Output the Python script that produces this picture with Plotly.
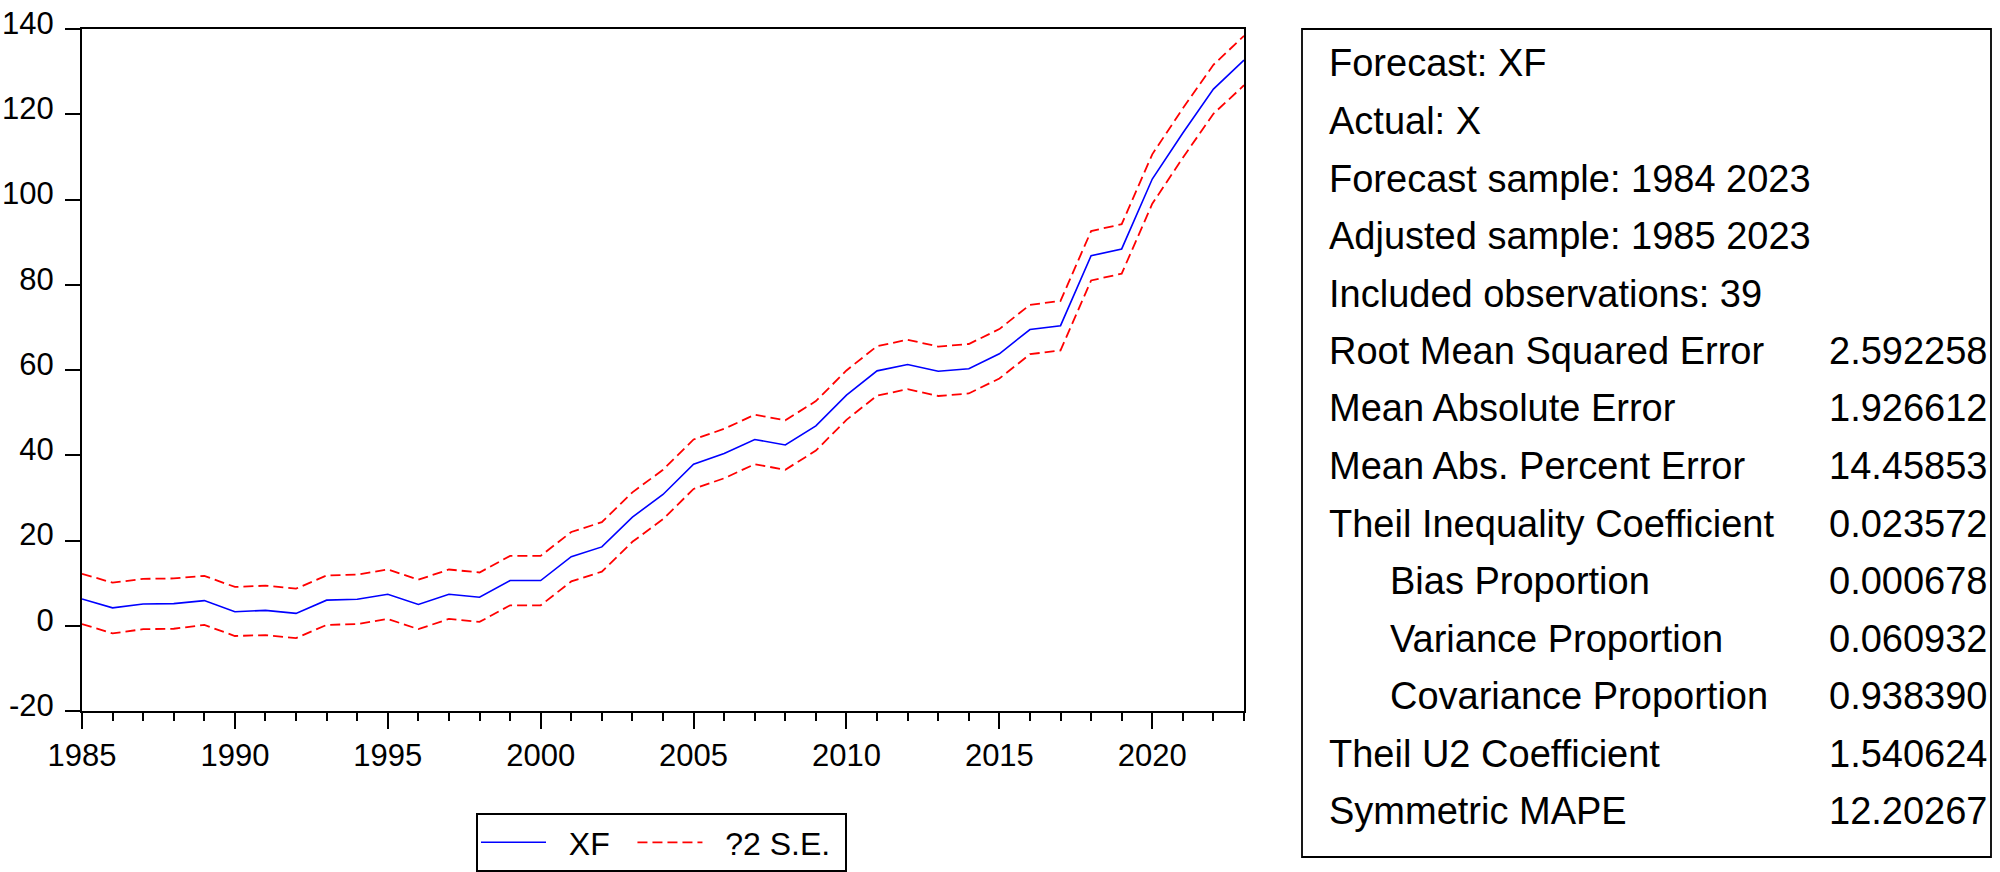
import plotly.graph_objects as go

# ---- data ----
years = list(range(1985, 2024))
xf = [6.3, 4.2, 5.1, 5.2, 5.9, 3.3, 3.6, 2.9, 6.0, 6.2,
      7.4, 5.0, 7.4, 6.7, 10.6, 10.6, 16.2, 18.5, 25.5, 30.8,
      37.9, 40.4, 43.7, 42.4, 46.9, 54.1, 59.8, 61.3, 59.7, 60.3,
      63.8, 69.5, 70.4, 86.8, 88.4, 104.8, 115.6, 125.9, 132.7]
upper = [12.2, 10.1, 11.0, 11.1, 11.7, 9.1, 9.4, 8.7, 11.8, 12.0,
         13.2, 10.8, 13.2, 12.5, 16.4, 16.4, 22.0, 24.3, 31.3, 36.6,
         43.7, 46.2, 49.5, 48.2, 52.7, 59.9, 65.6, 67.1, 65.5, 66.1,
         69.6, 75.3, 76.2, 92.6, 94.2, 110.6, 121.4, 131.6, 138.4]
lower = [0.4, -1.8, -0.8, -0.7, 0.2, -2.4, -2.2, -2.9, 0.2, 0.4,
         1.6, -0.8, 1.6, 0.9, 4.8, 4.8, 10.4, 12.7, 19.7, 25.0,
         32.1, 34.6, 37.9, 36.6, 41.1, 48.3, 54.0, 55.5, 53.9, 54.5,
         58.0, 63.7, 64.6, 81.0, 82.6, 99.0, 109.8, 120.1, 126.8]

y_ticks = [-20, 0, 20, 40, 60, 80, 100, 120, 140]
y_tick_labels = ["-20", "0", "20", "40", "60", "80", "100", "120", "140"]
x_ticks = [1985, 1990, 1995, 2000, 2005, 2010, 2015, 2020]

series_names = ["XF", "?2 S.E."]

stat_labels = ["Forecast: XF", "Actual: X", "Forecast sample: 1984 2023",
               "Adjusted sample: 1985 2023", "Included observations: 39",
               "Root Mean Squared Error", "Mean Absolute Error",
               "Mean Abs. Percent Error", "Theil Inequality Coefficient",
               "Bias Proportion", "Variance Proportion", "Covariance Proportion",
               "Theil U2 Coefficient", "Symmetric MAPE"]
stat_values = ["", "", "", "", "", "2.592258", "1.926612", "14.45853",
               "0.023572", "0.000678", "0.060932", "0.938390", "1.540624",
               "12.20267"]
indented = [False] * 9 + [True, True, True] + [False, False]

FONT = "Liberation Sans, Arial, sans-serif"
W, H = 2000, 872
L, T = 82, 29
PLOT_R, PLOT_B = 1244, 711
R, B = W - PLOT_R, H - PLOT_B
PW = PLOT_R - L
PH = PLOT_B - T


def px_x(p):
    return (p - L) / PW


def px_y(p):
    return (PLOT_B - p) / PH


NB = "\u00a0"

fig = go.Figure()
fig.add_trace(go.Scatter(x=years, y=xf, mode="lines",
                         name=NB + NB + series_names[0] + NB + NB,
                         line=dict(color="#0000FF", width=1.6)))
fig.add_trace(go.Scatter(x=years, y=upper, mode="lines",
                         name=NB + NB + series_names[1] + NB,
                         legendgroup="se",
                         line=dict(color="#FF0000", width=1.8, dash="10px,5px")))
fig.add_trace(go.Scatter(x=years, y=lower, mode="lines", name=series_names[1],
                         legendgroup="se", showlegend=False,
                         line=dict(color="#FF0000", width=1.8, dash="10px,5px")))

# stats box
fig.add_shape(type="rect", xref="paper", yref="paper",
              x0=px_x(1302), x1=px_x(1991), y0=px_y(857), y1=px_y(29),
              line=dict(color="black", width=1.8), fillcolor="rgba(0,0,0,0)")

for i, (lab, val, ind) in enumerate(zip(stat_labels, stat_values, indented)):
    yc = px_y(63.5 + i * 57.5)
    fig.add_annotation(x=px_x(1388 if ind else 1327), y=yc, xref="paper", yref="paper",
                       text=lab, showarrow=False, xanchor="left", yanchor="middle",
                       font=dict(family=FONT, size=38, color="black"))
    if val:
        fig.add_annotation(x=px_x(1990), y=yc, xref="paper", yref="paper",
                           text=val, showarrow=False, xanchor="right", yanchor="middle",
                           font=dict(family=FONT, size=38, color="black"))

fig.update_layout(
    width=W, height=H,
    margin=dict(l=L, r=R, t=T, b=B, pad=0, autoexpand=False),
    paper_bgcolor="white", plot_bgcolor="white",
    font=dict(family=FONT, size=31, color="black"),
    showlegend=True,
    legend=dict(orientation="h", x=px_x(476), y=px_y(813),
                xanchor="left", yanchor="top",
                bordercolor="black", borderwidth=2,
                font=dict(family=FONT, size=32, color="black"),
                itemwidth=65, itemsizing="trace", bgcolor="white"),
    xaxis=dict(range=[1985, 2023], tickmode="array", tickvals=x_ticks,
               ticks="outside", ticklen=16, tickwidth=2, tickcolor="black",
               showline=True, linecolor="black", linewidth=2, mirror=True,
               showgrid=False, zeroline=False, automargin=False,
               minor=dict(ticks="outside", ticklen=8, tickwidth=2,
                          tickcolor="black", dtick=1, tick0=1985, showgrid=False),
               tickfont=dict(family=FONT, size=31)),
    yaxis=dict(range=[-20, 140], tickmode="array", tickvals=y_ticks,
               ticktext=y_tick_labels,
               ticks="outside", ticklen=15, tickwidth=2, tickcolor="black",
               showline=True, linecolor="black", linewidth=2, mirror=True,
               showgrid=False, zeroline=False, automargin=False,
               ticklabelstandoff=5, ticklabelshift=-6,
               tickfont=dict(family=FONT, size=31)),
)

fig.write_html("out.html",
               config={"displayModeBar": False},
               post_script="document.body.style.margin='0px';"
                           "document.body.style.overflow='hidden';")
